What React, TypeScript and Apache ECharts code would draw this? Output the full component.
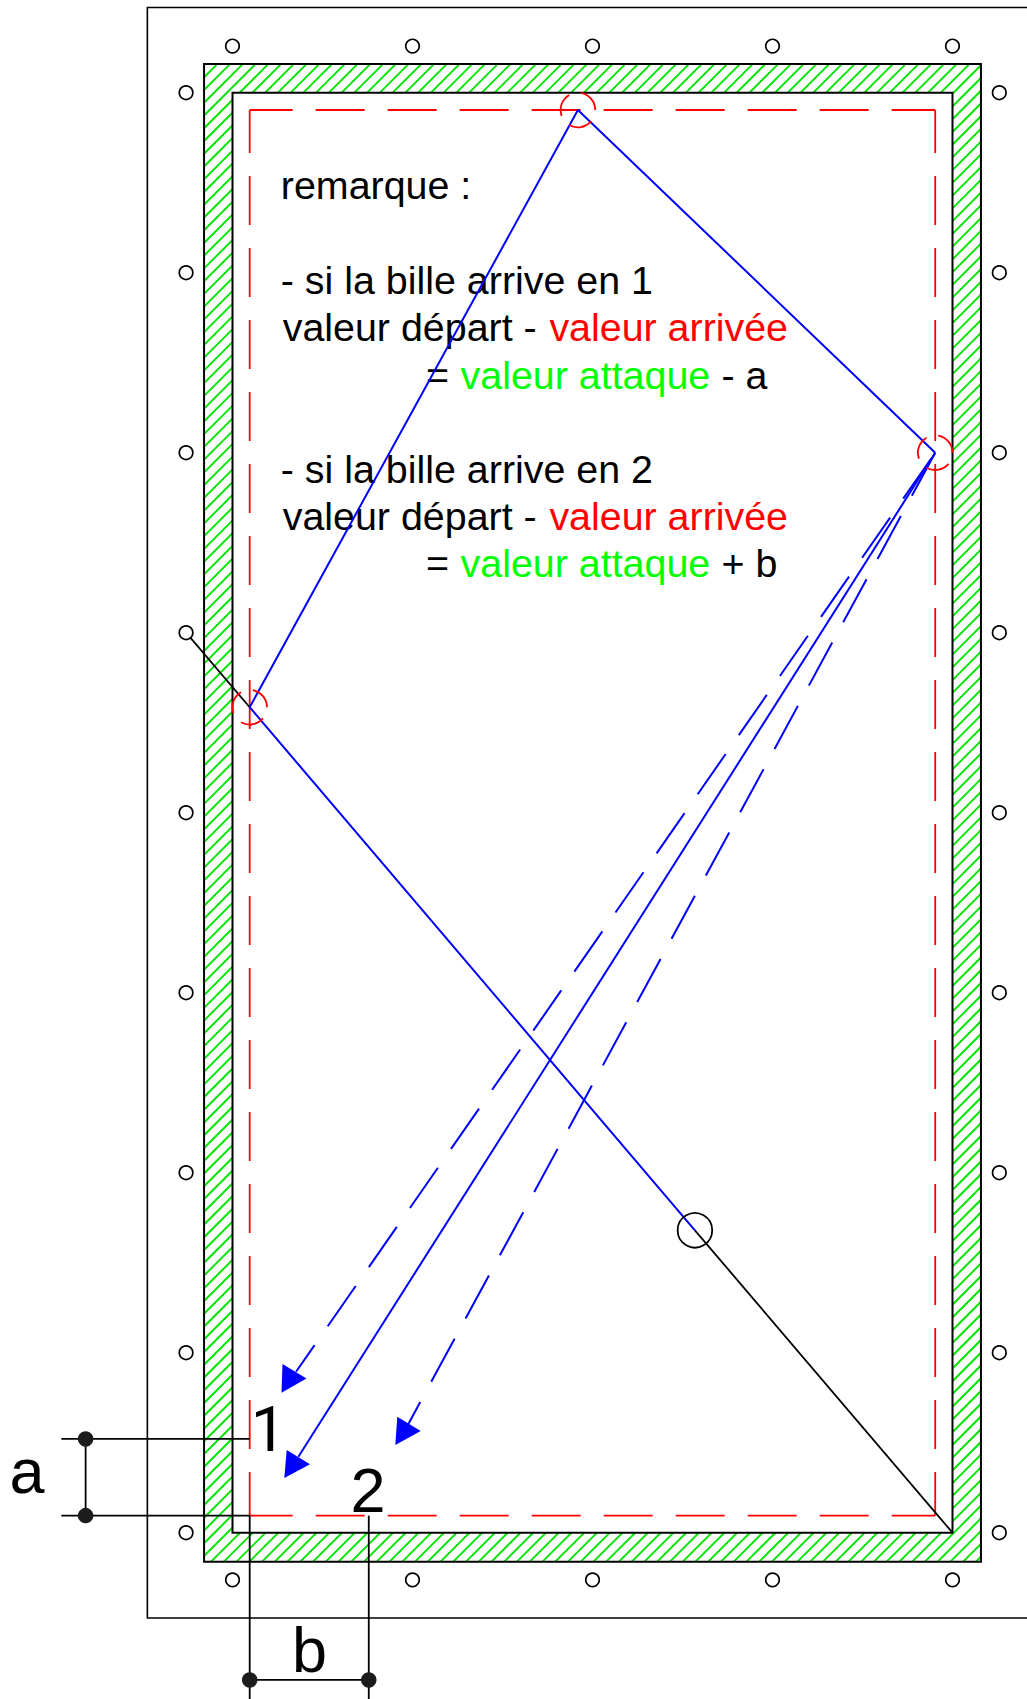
import React, { useEffect, useRef } from "react";
import * as echarts from "echarts";

// All geometry is expressed in table "diamonds": the playing rail runs 0..4 across, 0..8 down.
const frameRect = [-0.473, -0.473, 4.473, 8.474];
const cushionOuter = [-0.158, -0.159, 4.158, 8.161];
const cushionInner = [0, 0, 4, 8];
const hatchOrigin = -0.2439;
const hatchStep = 0.07082;

const cushionEdges = [
  [[0.0955, 0.096], [3.904, 0.096]],
  [[3.904, 0.096], [3.904, 7.905]],
  [[0.0955, 7.905], [3.904, 7.905]],
  [[0.0955, 0.096], [0.0955, 7.905]],
];

const diamondsTop = [[0, -0.259], [1, -0.259], [2, -0.259], [3, -0.259], [4, -0.259]];
const diamondsBottom = [[0, 8.262], [1, 8.262], [2, 8.262], [3, 8.262], [4, 8.262]];
const diamondsLeft = [0, 1, 2, 3, 4, 5, 6, 7, 8].map((d) => [-0.258, d]);
const diamondsRight = [0, 1, 2, 3, 4, 5, 6, 7, 8].map((d) => [4.26, d]);

const ballPosition = [2.569, 6.32];
const aimLine = [[-0.258, 3.0], [0.0955, 3.414]];
const cueLine = [[4, 8], ballPosition];
const ballPath = [ballPosition, [0.0955, 3.414], [1.919, 0.096], [3.904, 2.0]];
const bouncePoints = [[0.0955, 3.414], [1.919, 0.096], [3.904, 2.0]];
const bounceArcs = [[0, 80], [120, 200], [240, 320]];

const solidExit = [[3.904, 2.0], [0.366, 7.578]];
const dashedExit1 = [[3.904, 2.0], [0.353, 7.106]];
const dashedExit2 = [[3.904, 2.0], [0.977, 7.396]];
const arrowHeads = [
  [[0.2778, 7.063], [0.411, 7.144], [0.2722, 7.222]],
  [[0.3011, 7.541], [0.4306, 7.62], [0.2878, 7.696]],
  [[0.9156, 7.356], [1.0456, 7.435], [0.9044, 7.513]],
];

const dimensionLines = [
  [[-0.951, 7.479], [0.0955, 7.479]],
  [[-0.951, 7.905], [0.0955, 7.905]],
  [[-0.816, 7.479], [-0.816, 7.905]],
  [[0.0955, 7.905], [0.0955, 8.924]],
  [[0.757, 7.905], [0.757, 8.924]],
  [[0.0955, 8.818], [0.757, 8.818]],
];
const dimensionDots = [[-0.816, 7.479], [-0.816, 7.905], [0.0955, 8.818], [0.757, 8.818]];

const BLACK = "#000000";
const RED = "#ff0000";
const GREEN = "#00ff00";

const noteTexts: [string, string, number, number][] = [
  ["remarque :", BLACK, 0.2683, 0.5867],
  ["- si la bille arrive en 1", BLACK, 0.2683, 1.1144],
  ["valeur départ - ", BLACK, 0.2789, 1.3769],
  ["valeur arrivée", RED, 1.7605, 1.3769],
  ["=", BLACK, 1.0744, 1.6422],
  ["valeur attaque", GREEN, 1.2671, 1.6422],
  ["- a", BLACK, 2.7166, 1.6422],
  ["- si la bille arrive en 2", BLACK, 0.2683, 2.1641],
  ["valeur départ - ", BLACK, 0.2789, 2.4256],
  ["valeur arrivée", RED, 1.7605, 2.4256],
  ["=", BLACK, 1.0744, 2.6889],
  ["valeur attaque", GREEN, 1.2671, 2.6889],
  ["+ b", BLACK, 2.7166, 2.6889],
];
const bigLabels: [string, number, number][] = [
  ["1", 0.2, 7.5494],
  ["2", 0.7528, 7.8833],
  ["a", -1.1417, 7.7794],
  ["b", 0.4278, 8.7739],
];

const FONT = '"Liberation Sans", Arial, sans-serif';
const BASELINE = 0.3465;

function rectShape(api: any, r: number[]) {
  const a = api.coord([r[0], r[1]]);
  const b = api.coord([r[2], r[3]]);
  return { x: a[0], y: a[1], width: b[0] - a[0], height: b[1] - a[1] };
}

function renderTable(_p: any, api: any) {
  const children: any[] = [];
  const [l, t, r, b] = cushionOuter;
  children.push({
    type: "rect",
    shape: rectShape(api, frameRect),
    style: { fill: "#ffffff", stroke: BLACK, lineWidth: 1.6 },
  });
  const n = Math.ceil((r + b - (l + t)) / hatchStep);
  const first = Math.ceil((l + t - hatchOrigin) / hatchStep);
  for (let i = first; i <= first + n; i++) {
    const c = hatchOrigin + i * hatchStep;
    // x + y = c clipped to the cushion's outer rectangle
    const y0 = Math.max(t, c - r);
    const y1 = Math.min(b, c - l);
    if (y1 <= y0) continue;
    const p0 = api.coord([c - y0, y0]);
    const p1 = api.coord([c - y1, y1]);
    children.push({
      type: "line",
      shape: { x1: p0[0], y1: p0[1], x2: p1[0], y2: p1[1] },
      style: { stroke: "#00e400", lineWidth: 1.9 },
    });
  }
  children.push({
    type: "rect",
    shape: rectShape(api, cushionOuter),
    style: { fill: "none", stroke: BLACK, lineWidth: 2 },
  });
  children.push({
    type: "rect",
    shape: rectShape(api, cushionInner),
    style: { fill: "#ffffff", stroke: BLACK, lineWidth: 2 },
  });
  return { type: "group", children };
}

function renderArcs(_p: any, api: any) {
  const radius = api.size([0.0961, 0])[0];
  const children: any[] = [];
  bouncePoints.forEach((pt) => {
    const c = api.coord(pt);
    bounceArcs.forEach(([from, to]) => {
      children.push({
        type: "arc",
        shape: {
          cx: c[0],
          cy: c[1],
          r: radius,
          startAngle: (-to * Math.PI) / 180,
          endAngle: (-from * Math.PI) / 180,
          clockwise: true,
        },
        style: { stroke: RED, lineWidth: 1.8, fill: "none" },
      });
    });
  });
  const ball = api.coord(ballPosition);
  children.push({
    type: "circle",
    shape: { cx: ball[0], cy: ball[1], r: radius },
    style: { fill: "none", stroke: BLACK, lineWidth: 1.8 },
  });
  return { type: "group", children };
}

function renderArrowHeads(_p: any, api: any) {
  return {
    type: "group",
    children: arrowHeads.map((tri) => ({
      type: "polygon",
      shape: { points: tri.map((pt) => api.coord(pt)) },
      style: { fill: "#0000ff" },
    })),
  };
}

function textEl(api: any, text: string, color: string, x: number, y: number, size: number, align: string, family = FONT) {
  const p = api.coord([x, y]);
  return {
    type: "text",
    x: p[0],
    y: p[1] - size * BASELINE,
    style: {
      text,
      fill: color,
      font: `${size}px ${family}`,
      align,
      verticalAlign: "middle",
    },
  };
}

function renderTexts(_p: any, api: any) {
  return {
    type: "group",
    children: [
      ...noteTexts.map(([s, c, x, y]) => textEl(api, s, c, x, y, 39.4, "left")),
      ...bigLabels.map(([s, x, y]) =>
        textEl(api, s, BLACK, x, y, 63, "center", s === "1" ? "Roboto, sans-serif" : FONT)
      ),
    ],
  };
}

function lineSeries(name: string, data: number[][], color: string, width: number, z: number, dash?: any, offset?: number) {
  return {
    type: "line",
    name,
    data,
    z,
    symbol: "none",
    silent: true,
    clip: false,
    lineStyle: { color, width, type: dash || "solid", dashOffset: offset || 0, cap: "butt" },
  };
}

function customSeries(name: string, renderItem: any, z: number) {
  return { type: "custom", name, data: [[0, 0]], renderItem, z, silent: true, clip: false };
}

function diamondSeries(name: string, data: number[][]) {
  return {
    type: "scatter",
    name,
    data,
    z: 5,
    symbol: "circle",
    symbolSize: 13.5,
    silent: true,
    itemStyle: { color: "#ffffff", borderColor: BLACK, borderWidth: 1.7, opacity: 1 },
  };
}

export default function App() {
  const ref = useRef<HTMLDivElement>(null);
  useEffect(() => {
    const chart = echarts.init(ref.current as HTMLDivElement, undefined, { renderer: "svg" });
    chart.setOption({
      animation: false,
      tooltip: { show: false },
      legend: { show: false },
      grid: { left: 0, right: 0, top: 0, bottom: 0 },
      xAxis: { type: "value", min: -232.5 / 180, max: (1027 - 232.5) / 180, show: false },
      yAxis: { type: "value", inverse: true, min: -92.7 / 180, max: (1699 - 92.7) / 180, show: false },
      series: [
        customSeries("table", renderTable, 1),
        ...cushionEdges.map((e, i) => lineSeries(`cushion-${i}`, e, RED, 1.8, 2, [49, 23], 5.7)),
        diamondSeries("diamonds-top", diamondsTop),
        diamondSeries("diamonds-bottom", diamondsBottom),
        diamondSeries("diamonds-left", diamondsLeft),
        diamondSeries("diamonds-right", diamondsRight),
        customSeries("notes", renderTexts, 3),
        lineSeries("aim", aimLine, BLACK, 1.8, 4),
        lineSeries("cue", cueLine, BLACK, 1.8, 4),
        lineSeries("ball-path", ballPath, "#0000ff", 2, 4),
        lineSeries("exit-solid", solidExit, "#0000ff", 2, 4),
        lineSeries("exit-dashed-1", dashedExit1, "#0000ff", 2, 4, [49, 23], 65),
        lineSeries("exit-dashed-2", dashedExit2, "#0000ff", 2, 4, [49, 23], 0),
        customSeries("arrow-heads", renderArrowHeads, 5),
        customSeries("arcs", renderArcs, 5),
        ...dimensionLines.map((e, i) => lineSeries(`dimension-${i}`, e, BLACK, 1.8, 6)),
        {
          type: "scatter",
          name: "dimension-dots",
          data: dimensionDots,
          z: 7,
          symbol: "circle",
          symbolSize: 15.5,
          silent: true,
          itemStyle: { color: "#1c1c1c", opacity: 1 },
        },
      ],
    });
    return () => chart.dispose();
  }, []);
  return (
    <div
      ref={ref}
      style={{ position: "absolute", left: 0, top: 0, width: 1027, height: 1699, background: "#ffffff" }}
    />
  );
}
